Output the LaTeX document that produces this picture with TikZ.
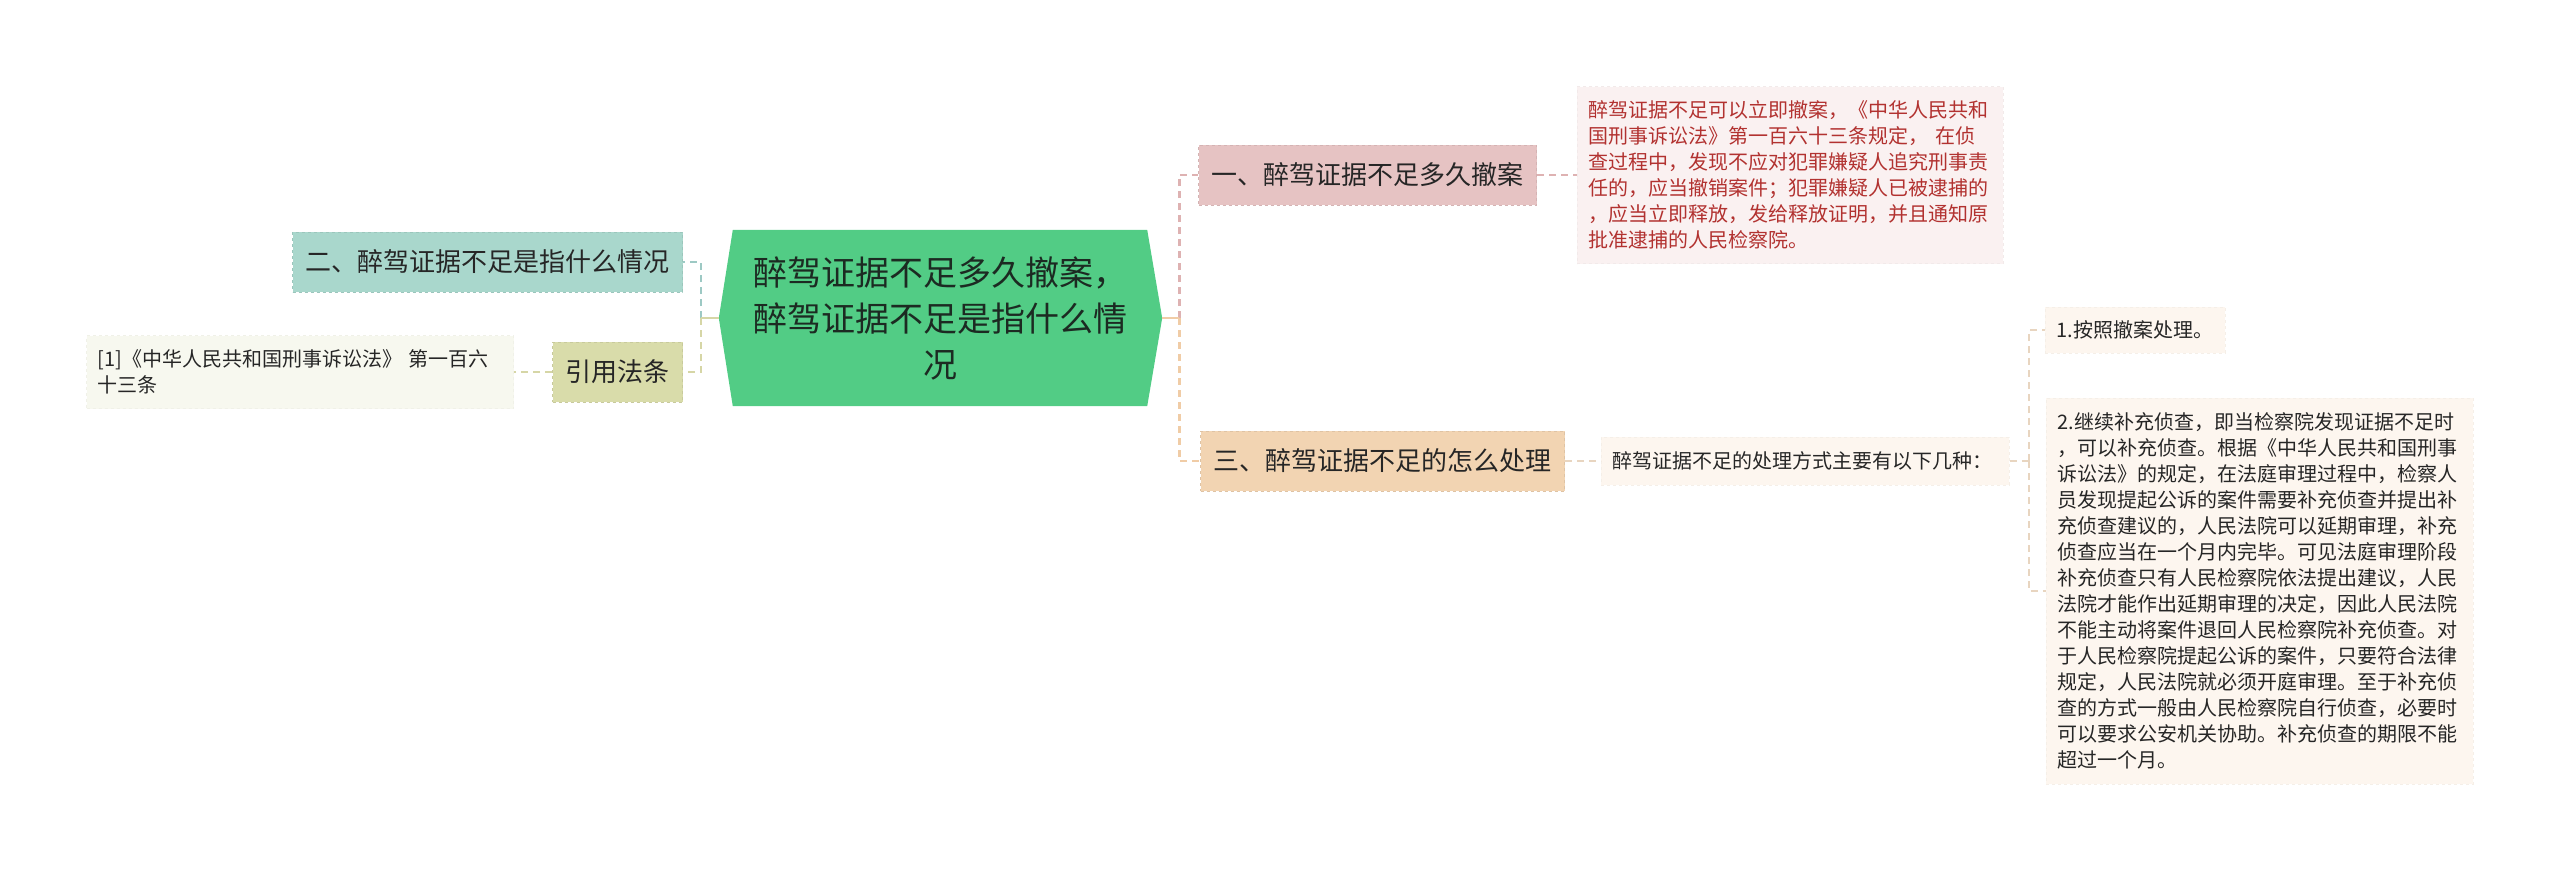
\documentclass[tikz,border=0pt]{standalone}
\usepackage{fontspec}
\setmainfont{Noto Sans CJK SC}
\usepackage{tikz}
\usepackage{xcolor}
\usetikzlibrary{positioning, calc, backgrounds}
\definecolor{ink}{RGB}{38,38,38}
\definecolor{rootink}{RGB}{28,42,34}
\definecolor{rootgreen}{RGB}{82,204,133}
\definecolor{pinkfill}{RGB}{230,195,195}
\definecolor{pinkline}{RGB}{222,178,178}
\definecolor{orangefill}{RGB}{242,212,178}
\definecolor{orangeline}{RGB}{240,204,166}
\definecolor{tealfill}{RGB}{169,215,204}
\definecolor{tealline}{RGB}{157,201,196}
\definecolor{olivefill}{RGB}{217,220,170}
\definecolor{oliveline}{RGB}{214,214,166}
\definecolor{pinkleaf}{RGB}{250,241,241}
\definecolor{pinktext}{RGB}{178,50,48}
\definecolor{oliveleaf}{RGB}{247,248,239}
\definecolor{tanleaf}{RGB}{253,246,239}
\definecolor{tanline}{RGB}{232,213,192}

\begin{document}
\begin{tikzpicture}[
  x=1pt, y=-1pt,
  root/.style={
    rectangle, minimum width=443pt, minimum height=176pt, align=center,
    font=\fontsize{34}{46}\selectfont, text=rootink
  },
  branch/.style={
    rectangle, fill=#1, draw=#1!92!black, dashed, line width=1pt,
    minimum height=60pt, inner xsep=13pt,
    font=\fontsize{26}{30}\selectfont, text=ink
  },
  leaf/.style={
    rectangle, fill=#1, draw=#1!97!black, dashed, line width=0.8pt,
    inner xsep=11pt, align=left,
    font=\fontsize{20}{26}\selectfont, text=ink
  },
  link/.style={draw=#1, line width=2.6pt, dash pattern=on 7pt off 5pt},
  stem/.style={draw=#1, line width=2.6pt},
  thinlink/.style={draw=#1, line width=2pt, dash pattern=on 7pt off 5pt}
]
\useasboundingbox (0,0) rectangle (2560,871);

% centre
\node[root] (root) at (940.5,318) {醉驾证据不足多久撤案，\\醉驾证据不足是指什么情\\况};
\begin{scope}[on background layer]
  \fill[rootgreen] (root.west) -- ($(root.north west)+(14,0)$) -- ($(root.north east)+(-15,0)$)
    -- (root.east) -- ($(root.south east)+(-15,0)$) -- ($(root.south west)+(14,0)$) -- cycle;
\end{scope}

% right side
\node[branch=pinkfill, anchor=west] (n1) at (1198,175) {一、醉驾证据不足多久撤案};
\node[branch=orangefill, anchor=west] (n3) at (1200,461) {三、醉驾证据不足的怎么处理};

\node[leaf=pinkleaf, text=pinktext, text width=404pt, minimum height=177pt, right=40pt of n1] (t1) {
  醉驾证据不足可以立即撤案，《中华人民共和\\
  国刑事诉讼法》第一百六十三条规定， 在侦\\
  查过程中，发现不应对犯罪嫌疑人追究刑事责\\
  任的，应当撤销案件；犯罪嫌疑人已被逮捕的\\
  ，应当立即释放，发给释放证明，并且通知原\\
  批准逮捕的人民检察院。
};

\node[leaf=tanleaf, text width=386pt, minimum height=48pt, right=36pt of n3] (tn) {醉驾证据不足的处理方式主要有以下几种：};

\node[leaf=tanleaf, text width=158pt, minimum height=46pt, anchor=west] (i1) at (2045,330) {1.按照撤案处理。};
\node[leaf=tanleaf, text width=405pt, minimum height=386pt, anchor=west] (i2) at (2046,591) {
  2.继续补充侦查，即当检察院发现证据不足时\\
  ，可以补充侦查。根据《中华人民共和国刑事\\
  诉讼法》的规定，在法庭审理过程中，检察人\\
  员发现提起公诉的案件需要补充侦查并提出补\\
  充侦查建议的，人民法院可以延期审理，补充\\
  侦查应当在一个月内完毕。可见法庭审理阶段\\
  补充侦查只有人民检察院依法提出建议，人民\\
  法院才能作出延期审理的决定，因此人民法院\\
  不能主动将案件退回人民检察院补充侦查。对\\
  于人民检察院提起公诉的案件，只要符合法律\\
  规定，人民法院就必须开庭审理。至于补充侦\\
  查的方式一般由人民检察院自行侦查，必要时\\
  可以要求公安机关协助。补充侦查的期限不能\\
  超过一个月。
};

% left side
\node[branch=tealfill, anchor=east] (n2) at (683,262) {二、醉驾证据不足是指什么情况};
\node[branch=olivefill, anchor=east] (law) at (683,372) {引用法条};
\node[leaf=oliveleaf, text width=405pt, minimum height=73pt, left=38pt of law] (ref) {
  [1]《中华人民共和国刑事诉讼法》 第一百六\\
  十三条
};

% connectors
\coordinate (rj) at ($(root.east)+(17,0)$);
\coordinate (lj) at ($(root.west)+(-18,0)$);
\coordinate (tj) at ($(tn.east)+(19,0)$);

\draw[link=pinkline] (rj) |- (n1.west);
\draw[link=orangeline] (rj) |- (n3.west);
\draw[stem=orangeline] (root.east) -- (rj);

\draw[link=tealline] (lj) |- (n2.east);
\draw[link=oliveline] (lj) |- (law.east);
\draw[stem=oliveline] (root.west) -- (lj);

\draw[thinlink=pinkline] (n1) -- (t1);
\draw[thinlink=tanline] (n3) -- (tn);
\draw[thinlink=oliveline] (law) -- (ref);

\draw[thinlink=tanline] (tn.east) -- (tj);
\draw[thinlink=tanline] (tj) |- (i1.west);
\draw[thinlink=tanline] (tj) |- (i2.west);

\end{tikzpicture}
\end{document}
